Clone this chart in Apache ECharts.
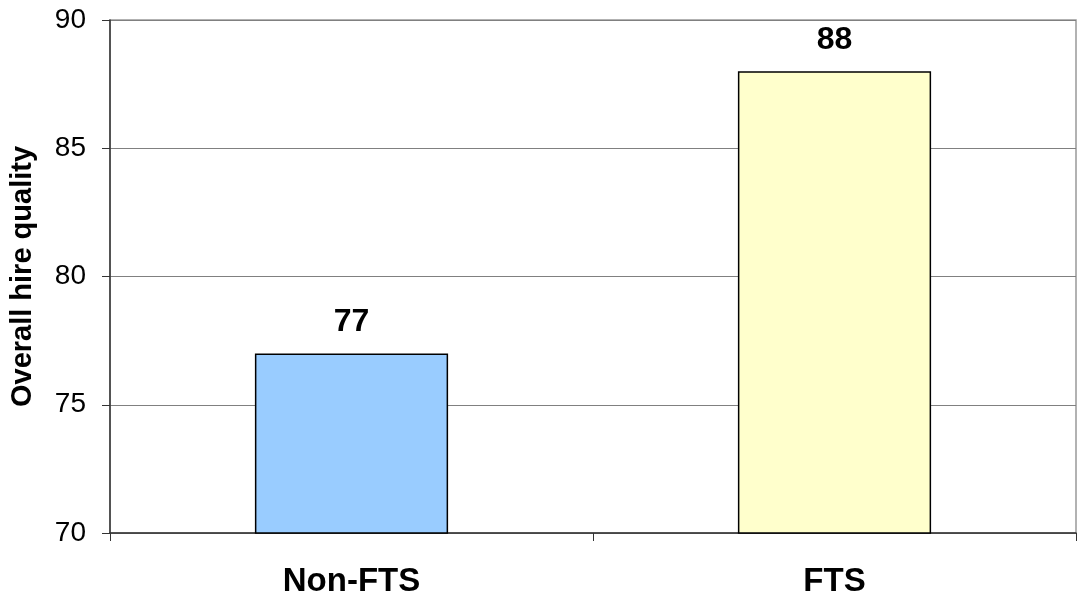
<!DOCTYPE html>
<html>
<head>
<meta charset="utf-8">
<script src="https://cdn.jsdelivr.net/npm/echarts@6/dist/echarts.min.js"></script>
<style>
  html, body { margin: 0; padding: 0; background: #fff; }
  #chart { width: 1081px; height: 598px; }
</style>
</head>
<body>
<div id="chart"></div>
<script>
    var categories = ['Non-FTS', 'FTS'];
    var hireQuality = [77, 88];
    var barColors = ['#99CCFF', '#FFFFCC'];
    var yTicks = [70, 75, 80, 85, 90];

    var font = 'Liberation Sans, Arial, sans-serif';
    var myChart = echarts.init(document.getElementById('chart'));
    var option = {
        backgroundColor: '#fff',
        animation: false,
        grid: {
            left: 108,
            right: 5,
            top: 20,
            bottom: 65,
            show: true,
            borderColor: '#999',
            borderWidth: 1.5
        },
        xAxis: {
            type: 'category',
            data: categories,
            axisLine: { lineStyle: { color: '#333', width: 1.5 } },
            axisTick: { show: true, alignWithLabel: false, length: 8, lineStyle: { color: '#333' } },
            axisLabel: {
                margin: 32,
                color: '#000',
                fontFamily: font,
                fontWeight: 'bold',
                fontSize: 33
            }
        },
        yAxis: {
            type: 'value',
            min: yTicks[0],
            max: yTicks[yTicks.length - 1],
            interval: 5,
            name: 'Overall hire quality',
            nameLocation: 'middle',
            nameGap: 73,
            nameTextStyle: {
                color: '#000',
                fontFamily: font,
                fontWeight: 'bold',
                fontSize: 29
            },
            axisLine: { show: true, lineStyle: { color: '#333', width: 1.5 } },
            axisTick: { show: true, length: 8, lineStyle: { color: '#333' } },
            axisLabel: {
                margin: 24,
                color: '#000',
                fontFamily: font,
                fontSize: 28
            },
            splitLine: { lineStyle: { color: '#808080', width: 1 } }
        },
        series: [{
            type: 'bar',
            barWidth: '40%',
            data: hireQuality.map(function (v, i) {
                return { value: v, itemStyle: { color: barColors[i] } };
            }),
            itemStyle: { borderColor: '#000', borderWidth: 1.5 },
            label: {
                show: true,
                position: 'top',
                distance: 15,
                color: '#000',
                fontFamily: font,
                fontWeight: 'bold',
                fontSize: 32
            }
        }]
    };
    myChart.setOption(option);
</script>
</body>
</html>
